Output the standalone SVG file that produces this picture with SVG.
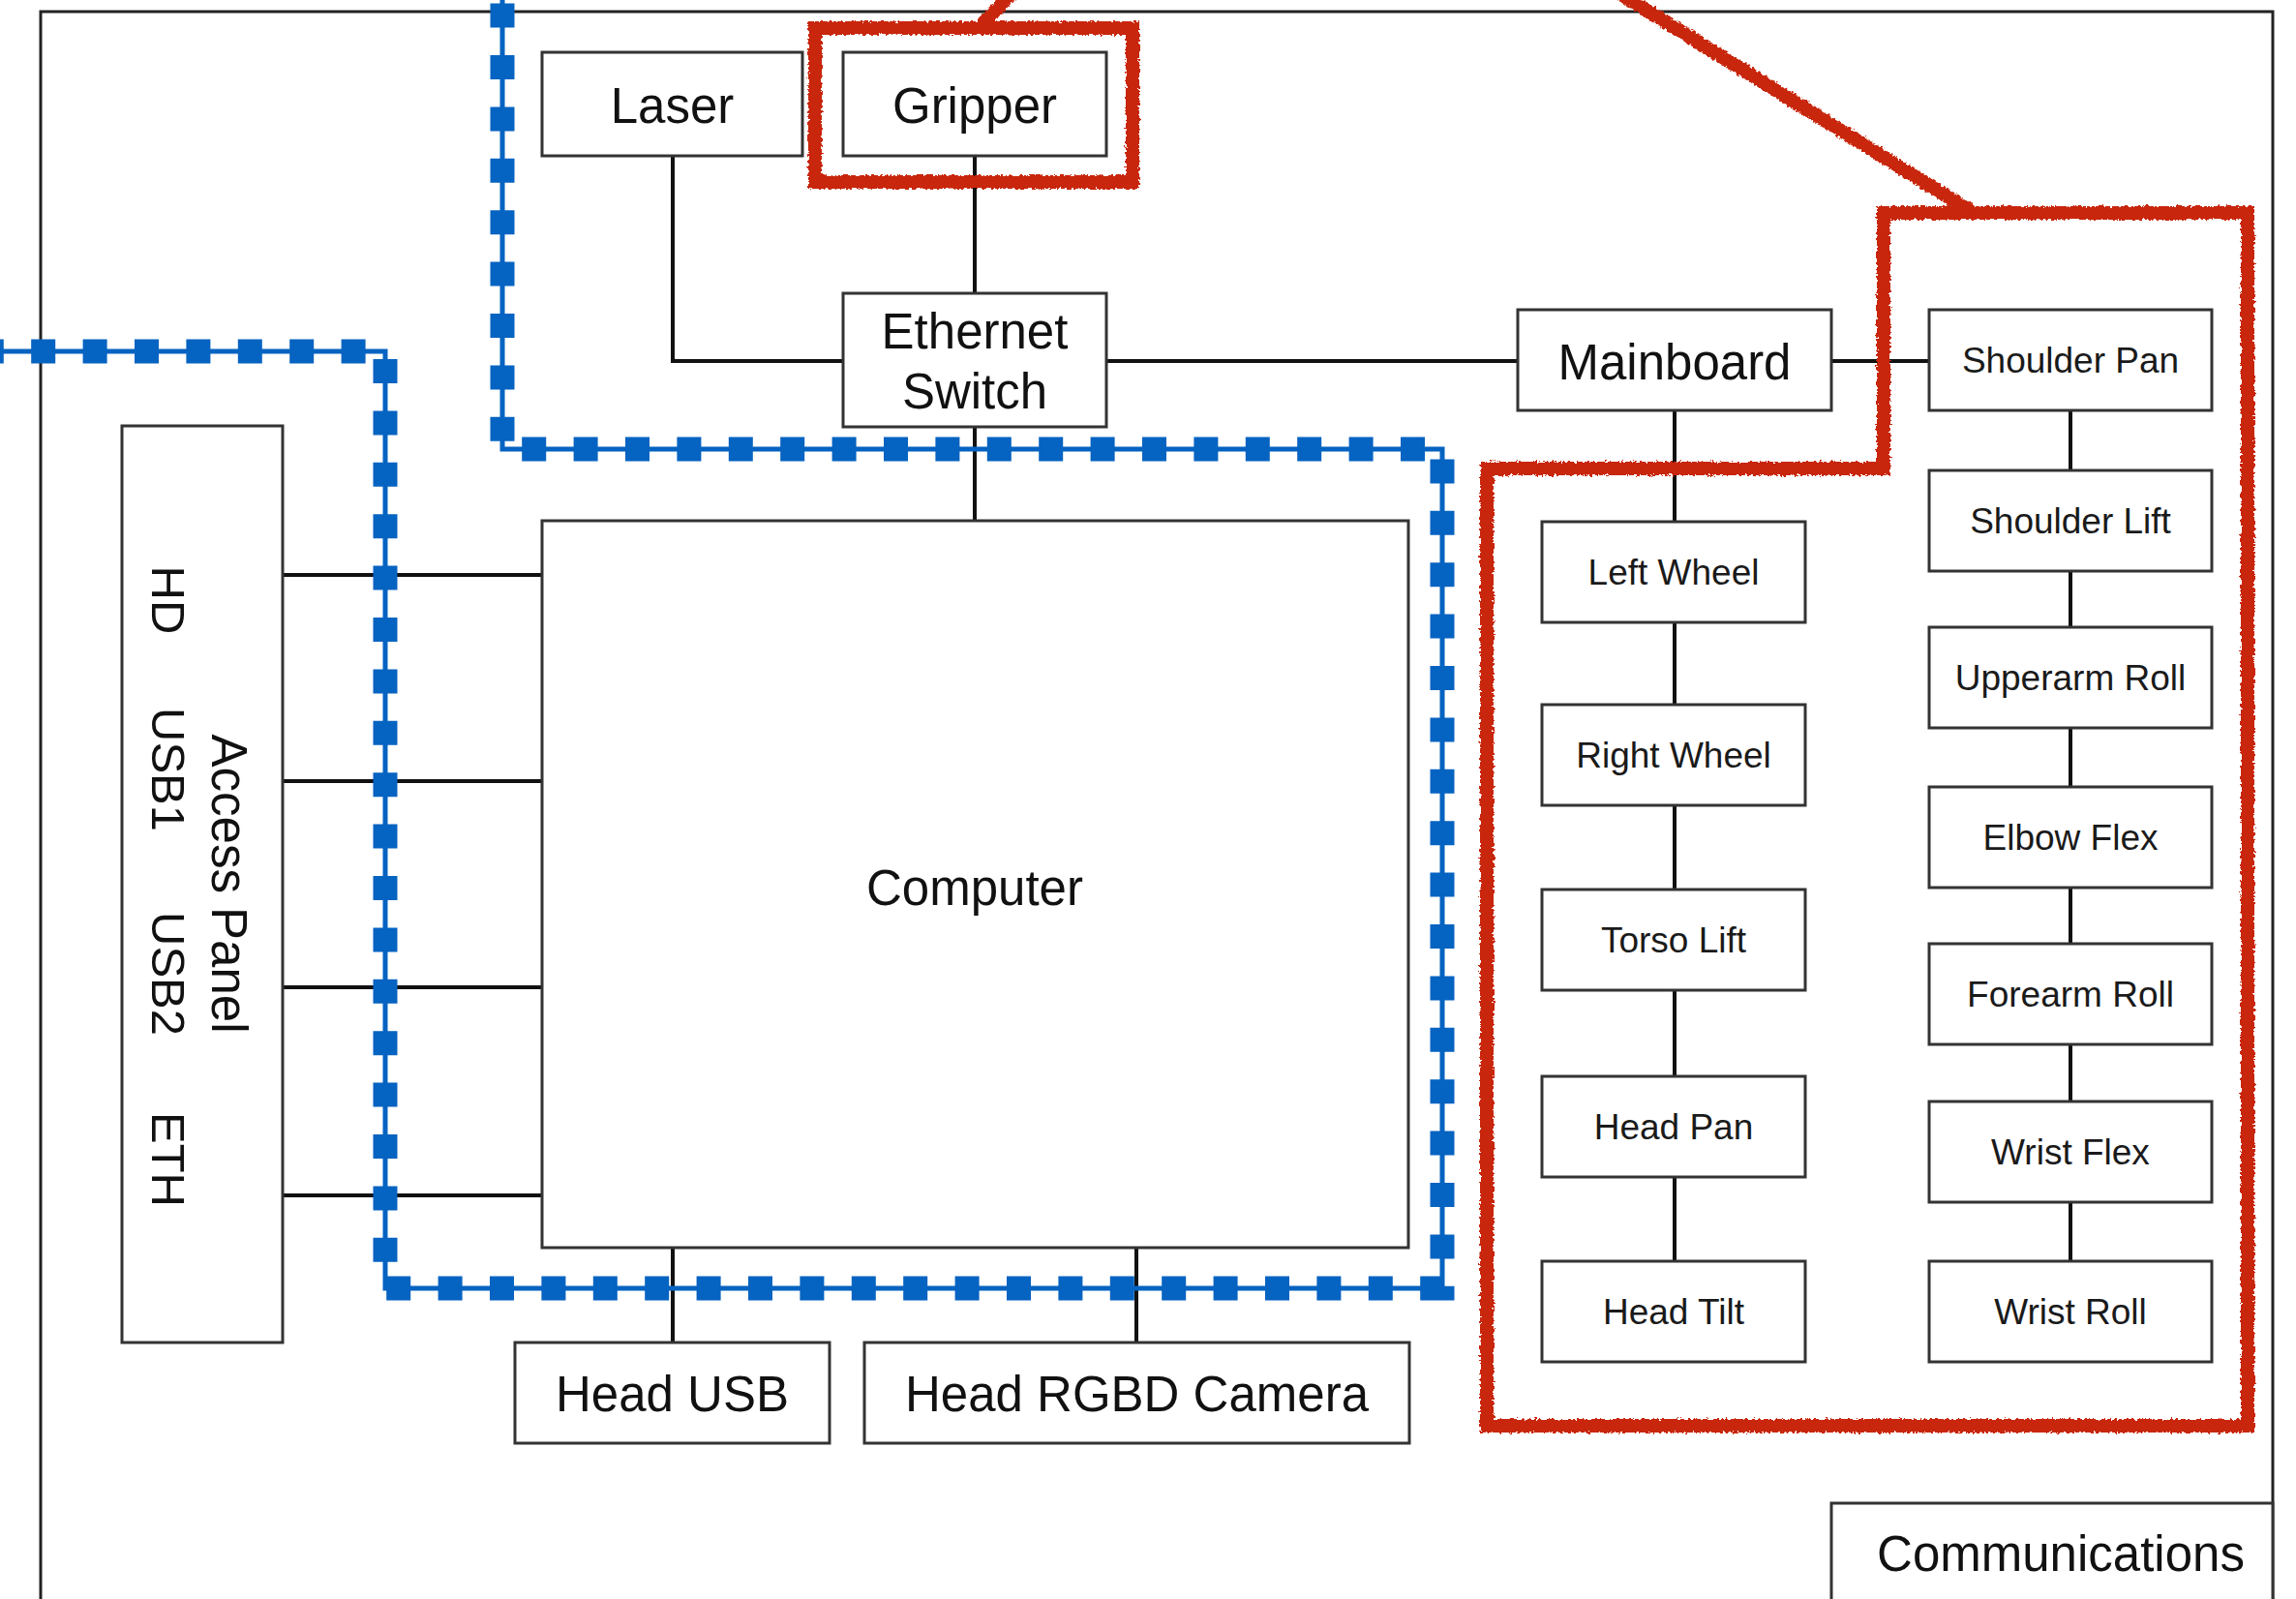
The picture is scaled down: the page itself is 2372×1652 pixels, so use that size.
<svg xmlns="http://www.w3.org/2000/svg" width="2372" height="1652" viewBox="0 0 2372 1652">
<defs>
<style>
.box{fill:#fff;stroke:#333;stroke-width:3}
.big{font-family:"Liberation Sans",Arial,sans-serif;font-size:51px;fill:#111;text-anchor:middle}
.sm{font-family:"Liberation Sans",Arial,sans-serif;font-size:37px;fill:#1a1a1a;text-anchor:middle}
.con{fill:none;stroke:#111;stroke-width:4}
.bl{fill:none;stroke:#0563c1;stroke-width:5}
.bd{fill:none;stroke:#0563c1;stroke-width:25;stroke-dasharray:25 28.4;stroke-dashoffset:49.8}
.red{fill:none;stroke:#c8260c;stroke-width:14;stroke-linejoin:miter;filter:url(#rough)}
</style>
<filter id="rough" x="-5%" y="-5%" width="110%" height="110%">
<feTurbulence type="fractalNoise" baseFrequency="0.35" numOctaves="2" seed="3" result="n"/>
<feDisplacementMap in="SourceGraphic" in2="n" scale="6" xChannelSelector="R" yChannelSelector="G"/>
</filter>
</defs>
<rect width="2372" height="1652" fill="#fff"/>
<path d="M42 1660 V12 H2348 V1660" fill="none" stroke="#222" stroke-width="3"/>

<g id="connectors">
<path class="con" d="M695 161 V373 H871"/>
<path class="con" d="M1007 161 V303"/>
<path class="con" d="M1007 441 V538"/>
<path class="con" d="M1143 373 H1568"/>
<path class="con" d="M1892 373 H1993"/>
<path class="con" d="M1730 424 V539 M1730 643 V728 M1730 832 V919 M1730 1023 V1112 M1730 1216 V1303"/>
<path class="con" d="M2139 424 V486 M2139 590 V648 M2139 752 V813 M2139 917 V975 M2139 1079 V1138 M2139 1242 V1303"/>
<path class="con" d="M292 594 H560 M292 807 H560 M292 1020 H560 M292 1235 H560"/>
<path class="con" d="M695 1289 V1387 M1174 1289 V1387"/>
</g>

<g id="laser"><rect class="box" x="560" y="54" width="269" height="107"/><text class="big" x="694.5" y="127">Laser</text></g>
<g id="gripper"><rect class="box" x="871" y="54" width="272" height="107"/><text class="big" x="1007" y="127">Gripper</text></g>
<g id="ethernet-switch"><rect class="box" x="871" y="303" width="272" height="138"/><text class="big" x="1007" y="360">Ethernet</text><text class="big" x="1007" y="422">Switch</text></g>
<g id="mainboard"><rect class="box" x="1568" y="320" width="324" height="104"/><text class="big" x="1730" y="392">Mainboard</text></g>
<g id="computer"><rect class="box" x="560" y="538" width="895" height="751"/><text class="big" x="1007" y="935">Computer</text></g>
<g id="access-panel"><rect class="box" x="126" y="440" width="166" height="947"/>
<text class="big" transform="translate(219,913) rotate(90)">Access Panel</text>
<text class="big" style="font-size:49px" transform="translate(157,620) rotate(90)">HD</text>
<text class="big" style="font-size:49px" transform="translate(157,795) rotate(90)">USB1</text>
<text class="big" style="font-size:49px" transform="translate(157,1006) rotate(90)">USB2</text>
<text class="big" style="font-size:49px" transform="translate(157,1198) rotate(90)">ETH</text>
</g>
<g id="head-usb"><rect class="box" x="532" y="1387" width="325" height="104"/><text class="big" x="694.5" y="1458">Head USB</text></g>
<g id="head-rgbd-camera"><rect class="box" x="893" y="1387" width="563" height="104"/><text class="big" x="1174.5" y="1458">Head RGBD Camera</text></g>
<g id="communications"><rect class="box" x="1892" y="1553" width="456" height="120"/><text class="big" x="2129" y="1623">Communications</text></g>

<g id="left-wheel"><rect class="box" x="1593" y="539" width="272" height="104"/><text class="sm" x="1729" y="604">Left Wheel</text></g>
<g id="right-wheel"><rect class="box" x="1593" y="728" width="272" height="104"/><text class="sm" x="1729" y="793">Right Wheel</text></g>
<g id="torso-lift"><rect class="box" x="1593" y="919" width="272" height="104"/><text class="sm" x="1729" y="984">Torso Lift</text></g>
<g id="head-pan"><rect class="box" x="1593" y="1112" width="272" height="104"/><text class="sm" x="1729" y="1177">Head Pan</text></g>
<g id="head-tilt"><rect class="box" x="1593" y="1303" width="272" height="104"/><text class="sm" x="1729" y="1368">Head Tilt</text></g>

<g id="shoulder-pan"><rect class="box" x="1993" y="320" width="292" height="104"/><text class="sm" x="2139" y="385">Shoulder Pan</text></g>
<g id="shoulder-lift"><rect class="box" x="1993" y="486" width="292" height="104"/><text class="sm" x="2139" y="551">Shoulder Lift</text></g>
<g id="upperarm-roll"><rect class="box" x="1993" y="648" width="292" height="104"/><text class="sm" x="2139" y="713">Upperarm Roll</text></g>
<g id="elbow-flex"><rect class="box" x="1993" y="813" width="292" height="104"/><text class="sm" x="2139" y="878">Elbow Flex</text></g>
<g id="forearm-roll"><rect class="box" x="1993" y="975" width="292" height="104"/><text class="sm" x="2139" y="1040">Forearm Roll</text></g>
<g id="wrist-flex"><rect class="box" x="1993" y="1138" width="292" height="104"/><text class="sm" x="2139" y="1203">Wrist Flex</text></g>
<g id="wrist-roll"><rect class="box" x="1993" y="1303" width="292" height="104"/><text class="sm" x="2139" y="1368">Wrist Roll</text></g>

<g id="blue-boundary">
<path class="bl" d="M519 -5 V464 H1490 V1331 H398 V363 H-5"/>
<path class="bd" d="M519 0 V464 H1490 V1331 H398 V363 H-5"/>
</g>

<g id="red-highlights">
<rect class="red" x="842" y="29" width="328" height="159"/>
<path class="red" d="M1012 28 L1048 -10"/>
<path class="red" d="M1946 220 H2322 V1473 H1536 V484 H1946 Z"/>
<path class="red" d="M2036 218 L1668 -10"/>
</g>
</svg>
